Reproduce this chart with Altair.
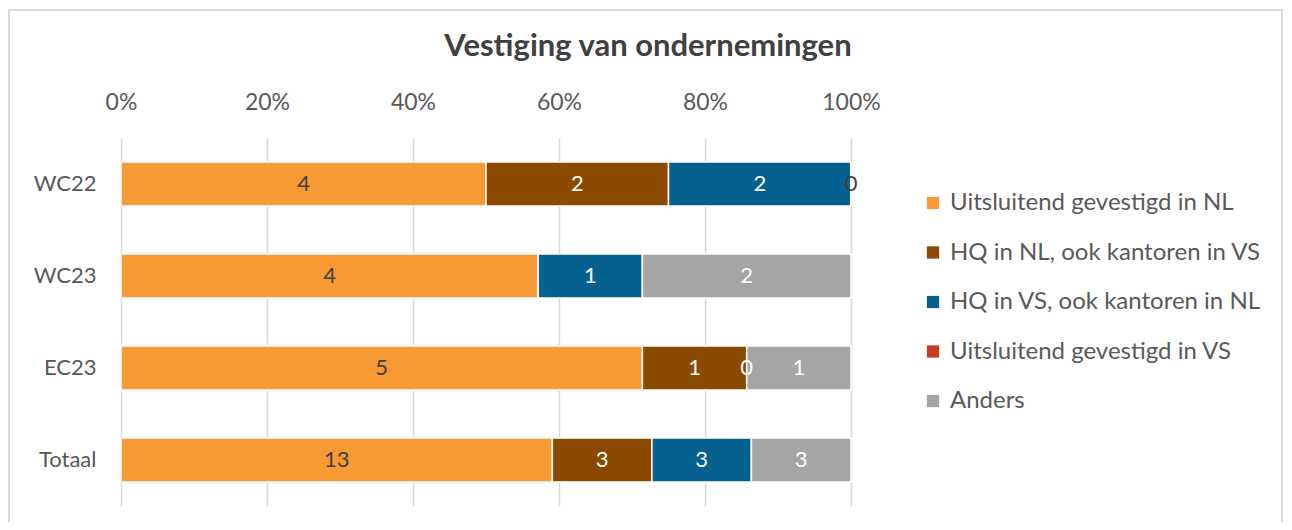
import altair as alt
import pandas as pd

title_text = "Vestiging van ondernemingen"
categories = ["WC22", "WC23", "EC23", "Totaal"]
series = [
    "Uitsluitend gevestigd in NL",
    "HQ in NL, ook kantoren in VS",
    "HQ in VS, ook kantoren in NL",
    "Uitsluitend gevestigd in VS",
    "Anders",
]
colors = ["#F79A33", "#8B4A00", "#05618F", "#C23B1F", "#A5A5A5"]
label_colors = ["#404040", "#FFFFFF", "#FFFFFF", "#404040", "#FFFFFF"]

# values per series, one entry per category (None = no label / no bar)
v_nl_only = [4, 4, 5, 13]
v_hq_nl = [2, None, 1, 3]
v_hq_vs = [2, 1, 0, 3]
v_vs_only = [0, None, None, None]
v_anders = [None, 2, 1, 3]
values = [v_nl_only, v_hq_nl, v_hq_vs, v_vs_only, v_anders]

rows = []
for si, (s, vals) in enumerate(zip(series, values)):
    for ci, c in enumerate(categories):
        v = vals[ci]
        rows.append({
            "cat": c,
            "series": s,
            "order": si,
            "raw": v,
            "val": 0 if v is None else v,
            "lab": "" if v is None else str(v),
            "lcol": label_colors[si],
        })
df = pd.DataFrame(rows)

FONT = "Lato"

base = alt.Chart(df).transform_stack(
    stack="val", groupby=["cat"], as_=["x0", "x1"], offset="normalize",
    sort=[alt.SortField("order", order="ascending")],
)

y_enc = alt.Y("cat:N", sort=categories, title=None,
              scale=alt.Scale(paddingInner=0.52, paddingOuter=0.26),
              axis=alt.Axis(labelFontSize=22, labelColor="#595959", labelFont=FONT,
                            ticks=False, domain=False, labelPadding=25))

bars = base.mark_bar(stroke="white", strokeWidth=1.5).encode(
    x=alt.X("x0:Q", title=None,
            scale=alt.Scale(domain=[0, 1], nice=False),
            axis=alt.Axis(orient="top", format=".0%", values=[0, 0.2, 0.4, 0.6, 0.8, 1.0],
                          labelFontSize=23, labelColor="#595959", labelFont=FONT,
                          labelFlush=False,
                          ticks=False, domain=False, labelPadding=24,
                          grid=True, gridColor="#D9D9D9", gridWidth=1.5)),
    x2="x1:Q",
    y=y_enc,
    color=alt.Color("series:N", sort=series,
                    scale=alt.Scale(domain=series, range=colors),
                    legend=alt.Legend(title=None, orient="none", legendX=800, legendY=53,
                                      symbolType="square", symbolSize=150,
                                      symbolStrokeWidth=0,
                                      labelFontSize=24, labelColor="#595959",
                                      labelFont=FONT, labelOffset=5,
                                      rowPadding=25.5, labelLimit=400)),
    order=alt.Order("order:Q"),
)

labels = base.transform_filter("datum.raw != null").transform_calculate(
    mid="(datum.x0 + datum.x1) / 2"
).mark_text(fontSize=22, font=FONT, baseline="middle", align="center").encode(
    x="mid:Q",
    y=alt.Y("cat:N", sort=categories),
    text="lab:N",
    color=alt.Color("lcol:N", scale=None),
)

single = pd.DataFrame({"t": [title_text]})

frame = alt.Chart(single).mark_rect(
    fill=None, stroke="#D9D9D9", strokeWidth=2
).encode(
    x=alt.value(-112), x2=alt.value(1161),
    y=alt.value(-128), y2=alt.value(395),
)

title_mark = alt.Chart(single).mark_text(
    fontSize=31, font=FONT, fontWeight="bold", color="#404040",
    align="center", baseline="middle"
).encode(
    x=alt.value(527), y=alt.value(-91), text="t:N"
)

chart = alt.layer(frame, title_mark, bars, labels).properties(
    width=730, height=368,
    background="white",
    autosize=alt.AutoSizeParams(type="none"),
    padding={"left": 113, "top": 130, "right": 433, "bottom": 16},
).configure_view(stroke=None)

chart.save("out.html", embed_options={"renderer": "svg", "actions": False})
